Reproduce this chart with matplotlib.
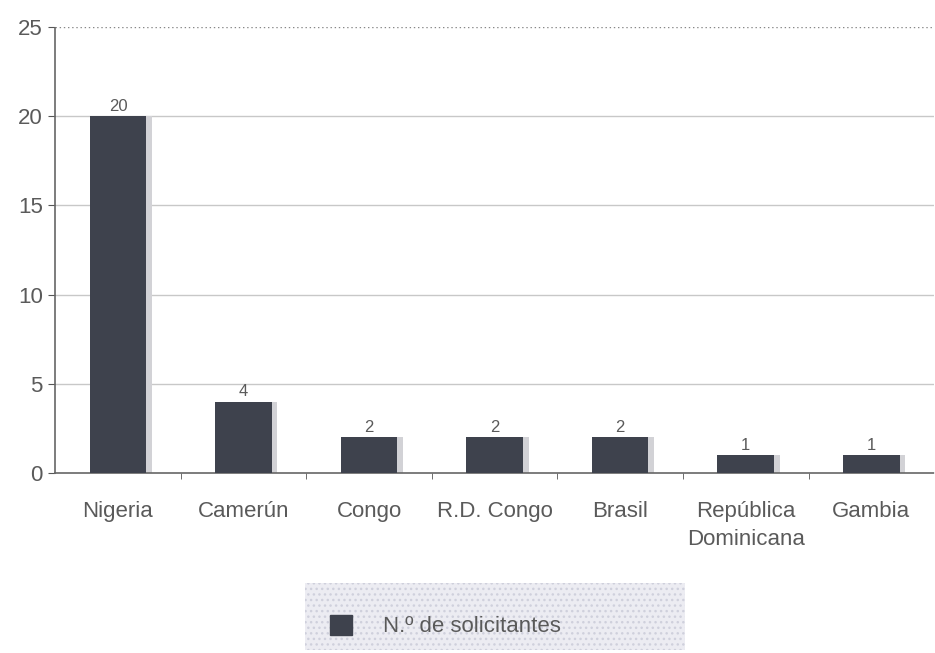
import matplotlib
matplotlib.use('Agg')
import matplotlib.pyplot as plt
import numpy as np

plt.rcParams['font.family'] = ['Liberation Sans', 'DejaVu Sans']

countries = ['Nigeria', 'Camerún', 'Congo', 'R.D. Congo', 'Brasil',
             'República\nDominicana', 'Gambia']
solicitantes = [20, 4, 2, 2, 2, 1, 1]
series_label = 'N.º de solicitantes'

BAR_COLOR = '#3e424d'
SHADOW_COLOR = '#d2d2d6'
TEXT_COLOR = '#5a5a5a'

fig = plt.figure(figsize=(9.35, 6.53), dpi=100)
ax = fig.add_axes([0.059, 0.2757, 0.94, 0.683])

x = np.arange(len(countries))
width = 0.45

# soft shadow on the right side of each bar
ax.bar(x + 0.045, solicitantes, width, color=SHADOW_COLOR, zorder=2)
bars = ax.bar(x, solicitantes, width, color=BAR_COLOR, zorder=3)

for bar, v in zip(bars, solicitantes):
    ax.text(bar.get_x() + bar.get_width() / 2, v + 0.12, str(v),
            ha='center', va='bottom', fontsize=12, color=TEXT_COLOR)

ax.set_xlim(-0.5, len(countries) - 0.5)
ax.set_ylim(0, 25)
ax.set_yticks([0, 5, 10, 15, 20, 25])

# solid grid lines, dotted on the top
for yv in [5, 10, 15, 20]:
    ax.axhline(yv, color='#c8c8c8', linewidth=1.0, zorder=1)
ax.axhline(25, color='#888888', linewidth=1.0, linestyle=(0, (1, 2)), zorder=1)

ax.set_xticks(x)
ax.set_xticklabels(countries, fontsize=16, color=TEXT_COLOR, linespacing=1.45)
ax.tick_params(axis='x', length=0, pad=20)
ax.set_xticks(x[:-1] + 0.5, minor=True)
ax.tick_params(axis='x', which='minor', length=4, color='#555555')
ax.tick_params(axis='y', labelsize=16, labelcolor=TEXT_COLOR, length=5,
               color='#555555', pad=4)

for side in ['top', 'right']:
    ax.spines[side].set_visible(False)
for side in ['left', 'bottom']:
    ax.spines[side].set_color('#666666')
    ax.spines[side].set_linestyle((0, (1, 1)))
    ax.spines[side].set_linewidth(1.2)

# dotted legend background
bg = plt.Rectangle((305 / 935, 3 / 653), 380 / 935, 67 / 653,
                   transform=fig.transFigure, facecolor='#ececf2',
                   edgecolor='#cfd0dc', hatch='...', linewidth=0, zorder=0)
fig.patches.append(bg)

handle = plt.Rectangle((0, 0), 1, 1, color=BAR_COLOR)
leg = fig.legend([handle], [series_label], loc='center left',
                 bbox_to_anchor=(330 / 935, 27 / 653),
                 bbox_transform=fig.transFigure,
                 fontsize=16, frameon=False,
                 handlelength=1.0, handleheight=1.0, handletextpad=1.4,
                 borderpad=0, borderaxespad=0)
for t in leg.get_texts():
    t.set_color(TEXT_COLOR)

fig.savefig('out.png', dpi=100)
